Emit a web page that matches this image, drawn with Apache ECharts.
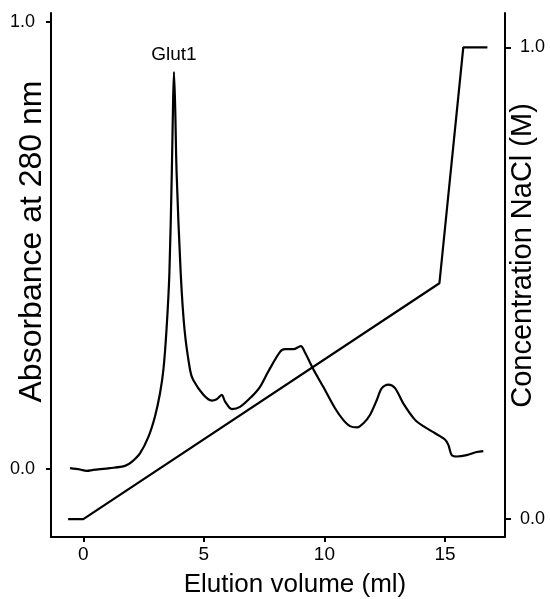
<!DOCTYPE html>
<html>
<head>
<meta charset="utf-8">
<script src="https://cdn.jsdelivr.net/npm/echarts@6/dist/echarts.min.js"></script>
<style>html,body{margin:0;padding:0;background:#fff}#c{width:550px;height:599px}</style>
</head>
<body>
<div id="c"></div>
<script>
// Absorbance trace (elution volume in ml, absorbance at 280 nm)
const elutionMl = [-0.55,-0.14,0.14,0.41,1.11,1.73,2.01,2.35,2.70,2.97,3.18,3.32,3.45,3.57,3.67,3.72,3.76,3.81,3.87,4.04,4.20,4.43,4.56,4.98,5.33,5.53,5.74,5.88,6.16,6.50,6.98,7.33,7.66,8.16,8.37,8.71,9.02,9.20,9.54,9.95,10.44,10.78,11.06,11.36,11.61,11.89,12.17,12.38,12.65,12.93,13.27,13.76,14.10,14.59,15.00,15.14,15.28,15.49,15.90,16.32,16.59];
const absorbance = [0.002,-0.001,-0.004,-0.002,0.002,0.007,0.016,0.035,0.072,0.117,0.169,0.221,0.311,0.438,0.662,0.810,0.888,0.810,0.662,0.438,0.311,0.221,0.199,0.166,0.153,0.156,0.166,0.151,0.134,0.139,0.162,0.184,0.217,0.262,0.268,0.268,0.275,0.260,0.223,0.184,0.136,0.110,0.096,0.093,0.102,0.121,0.154,0.181,0.189,0.181,0.147,0.110,0.096,0.080,0.066,0.054,0.031,0.028,0.031,0.038,0.040];
// NaCl gradient
const naclMl = [-0.63,0,14.77,15.76,16.76];
const naclM = [0,0,0.5,1.0,1.0];
// Tick values
const xTicks = [0,5,10,15];
const absTicks = [0,1];
const naclTicks = [0,1];
const peakLabel = 'Glut1';

const FONT = '"Liberation Sans", Arial, Helvetica, sans-serif';
const absData = elutionMl.map((x,i)=>[x,absorbance[i]]);
const naclData = naclMl.map((x,i)=>[x,naclM[i]]);

const axisLineStyle = {color:'#000', width:2};
const chart = echarts.init(document.getElementById('c'), null, {renderer:'canvas'});
chart.setOption({
  backgroundColor:'#fff',
  animation:false,
  grid:{left:51,right:45,top:13,bottom:62,containLabel:false,outerBoundsMode:'none'},
  xAxis:{
    type:'value', min:-1.34, max:17.49,
    name:'Elution volume (ml)', nameLocation:'middle', nameGap:35, nameMoveOverlap:false,
    nameTextStyle:{fontFamily:FONT,fontSize:26,color:'#000',padding:[0,0,0,34]},
    axisLine:{show:true,onZero:false,lineStyle:axisLineStyle},
    axisTick:{show:true,inside:false,length:5,customValues:xTicks,lineStyle:axisLineStyle},
    axisLabel:{show:true,customValues:xTicks,fontFamily:FONT,fontSize:19,color:'#000',margin:8,formatter:v=>String(v)},
    splitLine:{show:false}
  },
  yAxis:[{
    type:'value', position:'left', min:-0.152, max:1.020,
    name:'Absorbance at 280 nm', nameLocation:'middle', nameRotate:90, nameGap:3, nameMoveOverlap:false,
    nameTextStyle:{fontFamily:FONT,fontSize:32,color:'#000',padding:[0,0,0,67]},
    axisLine:{show:true,onZero:false,lineStyle:axisLineStyle},
    axisTick:{show:true,inside:false,length:5,customValues:absTicks,lineStyle:axisLineStyle},
    axisLabel:{show:true,customValues:absTicks,fontFamily:FONT,fontSize:18,color:'#000',margin:16,formatter:v=>v.toFixed(1)},
    splitLine:{show:false}
  },{
    type:'value', position:'right', min:-0.038, max:1.073,
    name:'Concentration NaCl (M)', nameLocation:'middle', nameRotate:90, nameGap:3, nameMoveOverlap:false,
    nameTextStyle:{fontFamily:FONT,fontSize:29,color:'#000',padding:[0,0,0,39]},
    axisLine:{show:true,onZero:false,lineStyle:axisLineStyle},
    axisTick:{show:true,inside:false,length:6,customValues:naclTicks,lineStyle:axisLineStyle},
    axisLabel:{show:true,customValues:naclTicks,fontFamily:FONT,fontSize:18,color:'#000',margin:15,formatter:v=>v.toFixed(1)},
    splitLine:{show:false}
  }],
  series:[{
    type:'line', name:'Absorbance', yAxisIndex:0, data:absData,
    smooth:0.3, showSymbol:false, symbol:'none',
    lineStyle:{color:'#000',width:2.2},
    markPoint:{
      symbol:'circle', symbolSize:0,
      data:[{type:'max', name:peakLabel}],
      label:{show:true,position:'top',distance:8,formatter:peakLabel,fontFamily:FONT,fontSize:19,color:'#000'}
    }
  },{
    type:'line', name:'NaCl', yAxisIndex:1, data:naclData,
    smooth:false, showSymbol:false, symbol:'none',
    lineStyle:{color:'#000',width:2.2}
  }]
});
</script>
</body>
</html>
